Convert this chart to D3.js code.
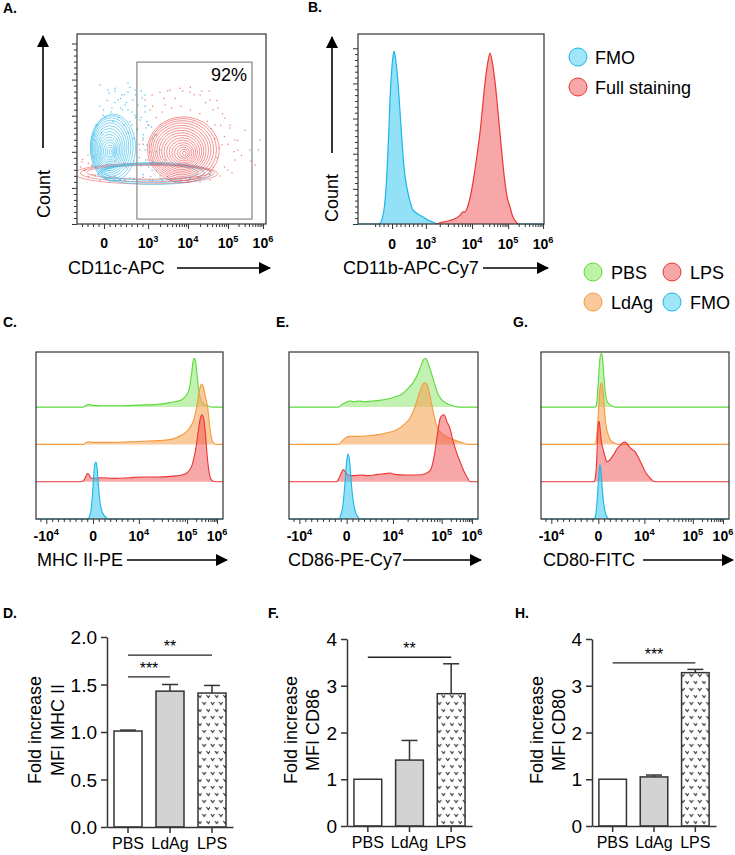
<!DOCTYPE html>
<html><head><meta charset="utf-8">
<script src="https://cdn.jsdelivr.net/npm/d3@7"></script>
<style>body{margin:0;background:#fff}svg{display:block}text{font-family:"Liberation Sans",Arial,sans-serif}</style>
</head><body><script>
// ---------------- DATA ----------------
const groups = ["PBS","LdAg","LPS"];
const mhcMean = [1.01,1.43,1.41], mhcErr = [1.02,1.50,1.49];
const cd86Mean = [1.0,1.41,2.83], cd86Err = [1.0,1.83,3.47];
const cd80Mean = [1.0,1.05,3.28], cd80Err = [1.0,1.09,3.35];
const mhcSig = [{a:"PBS",b:"LdAg",y:1.58,t:"***"},{a:"PBS",b:"LPS",y:1.81,t:"**"}];
const cd86Sig = [{a:"PBS",b:"LPS",y:3.61,t:"**"}];
const cd80Sig = [{a:"PBS",b:"LPS",y:3.49,t:"***"}];
const mhcTicks = [0,0.5,1.0,1.5,2.0], cdTicks = [0,1,2,3,4];

// flow axes (channel units 0..1000)
const aXTicks = [143,376,587,799,984];
const aXLabels = [["0",""],["10","3"],["10","4"],["10","5"],["10","6"]];
const bXTicks = [183,365,613,807,995];
const bXLabels = [["0",""],["10","3"],["10","4"],["10","5"],["10","6"]];
const histTicks = [55,305,550,808,968];
const histLabels = [["-10","4"],["0",""],["10","4"],["10","5"],["10","6"]];
const aYTicks = [0,190,380,570,760,950];
const bYTicks = [0,185,370,555,740,925];

// panel B histograms [channel, count]
const bBlue = [[115,0],[130,3],[142,10],[151,21],[160,40],[167,57],[172,72],[182,90],[188,97],[194,100],[200,97],[208,90],[215,82],[224,68],[237,47],[250,30],[263,21],[280,13],[296,8],[320,6],[350,4],[380,2],[403,1],[425,0]];
const bRed = [[420,0],[450,1],[495,2],[520,3],[548,5],[565,7],[575,7],[595,12],[618,24],[640,40],[656,53],[670,68],[683,82],[697,93],[710,99],[723,93],[737,82],[750,68],[763,53],[777,37],[790,24],[803,15],[817,10],[830,5],[844,2],[860,0]];

// panel C (MHC II)
const cGreen = [[250,0],[265,2],[280,4],[295,3],[350,2],[450,2],[550,3],[650,4],[720,7],[770,10],[800,16],[820,28],[832,50],[840,68],[846,73],[852,70],[860,52],[868,30],[878,14],[890,7],[905,3],[925,1],[945,0]];
const cOrange = [[250,0],[265,2],[280,4],[300,3],[400,3],[500,4],[600,5],[680,6],[740,9],[780,14],[820,24],[845,38],[862,60],[875,82],[885,90],[895,86],[905,72],[918,55],[928,30],[938,10],[950,2],[965,0]];
const cRed = [[240,0],[255,2],[265,7],[275,12],[283,11],[292,6],[305,5],[350,6],[420,5],[500,6],[580,7],[650,7],[720,8],[780,10],[810,14],[835,25],[855,50],[870,80],[880,96],[888,100],[896,95],[905,75],[915,40],[925,15],[935,4],[945,1],[960,0]];
const cBlue = [[275,0],[285,3],[295,15],[303,40],[310,70],[316,83],[321,85],[327,75],[334,50],[341,28],[350,14],[360,7],[372,3],[385,0]];

// panel E (CD86)
const eGreen = [[262,0],[280,4],[300,7],[323,9],[345,8],[370,9],[400,8],[440,9],[480,10],[520,12],[560,15],[600,20],[630,28],[660,38],[685,52],[700,63],[712,71],[720,73],[730,70],[745,58],[765,40],[785,22],[805,12],[830,6],[855,3],[880,1],[900,0]];
const eOrange = [[262,0],[280,5],[300,10],[323,12],[360,12],[420,13],[480,15],[530,18],[570,22],[610,30],[640,39],[665,55],[685,72],[700,85],[712,91],[720,92],[728,90],[740,80],[755,60],[770,40],[785,25],[799,19],[820,14],[850,9],[880,6],[910,3],[930,1],[945,0]];
const eRed = [[250,0],[262,4],[275,12],[288,18],[298,15],[310,10],[340,9],[380,10],[420,9],[470,11],[510,12],[535,13],[560,11],[620,10],[680,10],[720,12],[745,16],[760,27],[772,45],[785,70],[799,94],[810,99],[820,100],[835,90],[852,79],[868,61],[885,45],[905,30],[925,16],[942,7],[958,0]];
const eBlue = [[262,0],[272,4],[285,20],[295,50],[303,80],[310,95],[313,97],[320,88],[328,60],[336,35],[345,18],[355,8],[366,3],[378,0]];

// panel G (CD80)
const gGreen = [[288,0],[296,6],[303,30],[310,62],[317,78],[322,80],[328,72],[334,48],[341,24],[350,10],[360,5],[375,2],[395,0]];
const gOrange = [[285,0],[293,5],[300,25],[308,60],[315,85],[322,92],[330,80],[337,55],[343,35],[350,22],[356,16],[365,9],[375,5],[390,2],[410,0]];
const gRed = [[282,0],[290,8],[296,30],[300,60],[304,85],[309,90],[314,80],[320,62],[330,49],[340,38],[351,30],[365,32],[378,37],[392,43],[404,49],[420,54],[436,58],[446,59],[457,57],[470,52],[485,48],[500,45],[515,38],[527,31],[543,22],[556,14],[569,9],[585,4],[606,0]];
const gBlue = [[280,0],[290,5],[298,25],[305,55],[310,75],[314,81],[319,72],[326,45],[334,22],[343,9],[352,3],[362,0]];

// panel A contours [cx, cy, rx, ry] (channel units)
const blueRings = [[178,379,8,12],[176,379,16,24],[174,381,24,35],[172,383,32,47],[170,385,40,58],[170,387,48,70],[170,390,56,82],[171,393,64,94],[172,396,72,106],[174,399,80,118],[176,402,88,130],[178,404,96,142],[181,405,104,154],[185,404,112,166],[190,402,120,176]];
const blueTail = [[390,272,250,42],[400,268,275,50],[410,266,300,58]];
const redRings = [[568,372,10,10],[566,372,22,20],[564,373,34,31],[562,374,46,42],[560,375,58,53],[558,377,70,64],[556,379,82,75],[555,381,94,86],[554,383,106,97],[553,385,118,108],[553,387,130,119],[554,389,142,130],[555,391,154,141],[557,392,166,152],[560,392,178,163],[563,391,190,173]];
const redTail = [[380,272,330,36],[372,268,355,46],[365,265,380,54]];
const blueDots = [[120,620],[160,650],[200,700],[230,610],[260,640],[290,590],[310,680],[340,560],[220,560],[180,590],[280,540],[320,500],[350,470],[300,450],[330,420],[360,390],[270,480],[250,520],[240,600],[200,640],[150,560],[100,520],[90,470],[80,300],[110,260],[160,240],[230,235],[300,240],[350,260],[380,300],[400,330],[420,280],[390,250],[440,240],[480,250],[330,350],[300,330],[260,300],[360,620],[340,700],[280,720],[190,540],[130,480],[370,540],[250,680],[400,450],[420,380],[310,560],[270,600],[230,660],[170,690],[140,600],[365,505],[395,510],
 [122,731],[164,705],[201,715],[238,679],[270,694],[296,652],[323,626],[344,663],[254,626],[217,652],[185,610],[307,573],[333,547],[360,589],[376,521],[317,494],[349,452],[370,416],[386,379],[365,337],[339,305],[397,284],[439,252],[492,231],[545,226],[598,237],[640,247],[280,242],[227,226],[175,221],[122,231],[95,252],[79,310],[90,442],[106,521],[138,573],[270,742],[307,705],[360,679],[291,521],[413,468],[439,389],[466,337],[428,310]];
const redDots = [[20,300],[40,280],[60,320],[80,260],[100,300],[130,270],[60,250],[30,340],[90,350],[150,240],[200,250],[250,230],[300,235],[350,245],[400,230],[450,240],[500,230],[550,235],[600,240],[650,245],[700,260],[720,300],[740,350],[750,400],[730,450],[710,500],[690,540],[650,580],[600,600],[550,620],[500,610],[450,590],[420,560],[520,660],[560,700],[620,680],[680,640],[720,600],[760,520],[780,460],[800,420],[830,380],[870,360],[920,330],[960,390],[850,440],[780,300],[820,270],[460,660],[400,620],[480,700],[600,720],[660,700],[380,520],[350,420],[420,470],[250,320],[200,330],[160,310],[700,700],[740,650],[770,580],[810,520],
 [360,652],[397,679],[439,694],[492,705],[545,715],[598,694],[651,679],[704,652],[746,610],[783,557],[809,505],[836,442],[852,389],[836,337],[799,284],[757,252],[704,231],[651,221],[587,226],[518,221],[450,226],[386,231],[333,237],[254,231],[175,242],[95,258],[42,284],[26,326],[58,363],[79,310],[386,600],[466,626],[730,521],[767,416],[889,494],[915,389],[942,310],[968,442],[333,389],[349,442],[376,337]];
const gate = {x0:317,x1:926,y0:26,y1:852,label:"92%"};

const legendTop = ["FMO","Full staining"];
const legendBottom = [["PBS","LPS"],["LdAg","FMO"]];

// ---------------- STYLE ----------------
const COL = {
  green:{s:"#5cd93b",f:"rgba(120,225,85,0.45)",lf:"#bdf3a6"},
  orange:{s:"#f39b3e",f:"rgba(247,165,90,0.6)",lf:"#fbca9c"},
  red:{s:"#ec3535",f:"rgba(240,80,80,0.5)",lf:"#f8a7a7"},
  blue:{s:"#1ab6e8",f:"rgba(40,195,240,0.5)",lf:"#9fe6f8"}
};
const AX = "#333";
const W=735,H=855;
const svg = d3.select("body").append("svg").attr("width",W).attr("height",H);
const defs = svg.append("defs");
defs.append("marker").attr("id","ah").attr("viewBox","0 0 12 12").attr("refX",11).attr("refY",6)
  .attr("markerWidth",12).attr("markerHeight",12).attr("markerUnits","userSpaceOnUse").attr("orient","auto")
  .append("path").attr("d","M0,0 L12,6 L0,12 Z").attr("fill","#000");
const pat = defs.append("pattern").attr("id","vpat").attr("patternUnits","userSpaceOnUse").attr("width",8.4).attr("height",14);
pat.append("rect").attr("width",8.4).attr("height",14).attr("fill","#fff");
pat.append("path").attr("d","M0.8,2 L2.6,4.6 L4.4,2 M5,9 L6.8,11.6 L8.6,9").attr("stroke","#333").attr("fill","none").attr("stroke-width",1.1);

function label(t,x,y){svg.append("text").attr("x",x).attr("y",y).attr("font-size",14).attr("font-weight","bold").text(t);}
function arrow(x1,y1,x2,y2){svg.append("line").attr("x1",x1).attr("y1",y1).attr("x2",x2).attr("y2",y2).attr("stroke","#000").attr("stroke-width",1.6).attr("marker-end","url(#ah)");}
function supText(sel,lab){sel.text(null);sel.append("tspan").text(lab[0]);if(lab[1])sel.append("tspan").attr("dy",-6).attr("font-size","0.66em").text(lab[1]);}

function minorFrom(ticks, labels){
  const out=[];
  for(let i=0;i<ticks.length-1;i++){
    const a=ticks[i],b=ticks[i+1];
    const la=labels[i][1], lb=labels[i+1][1];
    if(la!=="" && lb!=="" && labels[i][0]==="10"){ for(let k=2;k<10;k++) out.push(a+(b-a)*Math.log10(k)); }
    else { const n=8; for(let k=1;k<n;k++) out.push(a+(b-a)*k/n); }
  }
  const d0=ticks[1]-ticks[0];
  for(let k=1;k<5;k++){const v=ticks[0]-d0*k/8; if(v>0) out.push(v);}
  return out;
}

function xAxis(x, y0, ticks, labels, labelY){
  const g=svg.append("g").attr("transform",`translate(0,${y0})`);
  g.call(d3.axisBottom(x).tickValues(minorFrom(ticks,labels)).tickSize(3).tickFormat("")).call(s=>s.select(".domain").remove());
  const g2=svg.append("g").attr("transform",`translate(0,${y0})`);
  g2.call(d3.axisBottom(x).tickValues(ticks).tickSize(5).tickFormat("")).call(s=>s.select(".domain").remove());
  svg.selectAll(null).data(ticks).enter().append("text").attr("x",d=>x(d)).attr("y",labelY)
    .attr("text-anchor","middle").attr("font-size",14).attr("font-weight","bold").each(function(d,i){supText(d3.select(this),labels[i]);});
  svg.selectAll(".tick line").attr("stroke",AX);
}
function yAxisMinor(y, x0, ticks){
  const minors=[];
  for(let i=0;i<ticks.length-1;i++) for(let k=1;k<6;k++) minors.push(ticks[i]+(ticks[i+1]-ticks[i])*k/6);
  svg.append("g").attr("transform",`translate(${x0},0)`).call(d3.axisLeft(y).tickValues(minors).tickSize(3).tickFormat("")).call(s=>s.select(".domain").remove());
  svg.append("g").attr("transform",`translate(${x0},0)`).call(d3.axisLeft(y).tickValues(ticks).tickSize(5).tickFormat("")).call(s=>s.select(".domain").remove());
}
function frame(p){svg.append("rect").attr("x",p.x).attr("y",p.y).attr("width",p.w).attr("height",p.h).attr("fill","none").attr("stroke",AX).attr("stroke-width",1.2);}
function countLabel(x,y,ax,ay1,ay2){
  svg.append("text").attr("transform",`translate(${x},${y}) rotate(-90)`).attr("text-anchor","middle").attr("font-size",18).text("Count");
  arrow(ax,ay1,ax,ay2);
}

// ---------------- PANEL A ----------------
label("A.",3,13);
const pA={x:77,y:34,w:189,h:190};
defs.append("clipPath").attr("id","clipA").append("rect").attr("x",pA.x).attr("y",pA.y).attr("width",pA.w).attr("height",pA.h);
const xA=d3.scaleLinear().domain([0,1000]).range([pA.x,pA.x+pA.w]);
const yA=d3.scaleLinear().domain([0,1000]).range([pA.y+pA.h,pA.y]);
const gA=svg.append("g").attr("clip-path","url(#clipA)");
gA.selectAll(".rd").data(redDots).enter().append("circle").attr("cx",d=>xA(d[0])).attr("cy",d=>yA(d[1])).attr("r",0.75).attr("fill","#f47c7c");
gA.selectAll(".bd").data(blueDots).enter().append("circle").attr("cx",d=>xA(d[0])).attr("cy",d=>yA(d[1])).attr("r",0.75).attr("fill","#45c6ef");
function rings(data,color){
  gA.selectAll(null).data(data).enter().append("ellipse").attr("cx",d=>xA(d[0])).attr("cy",d=>yA(d[1]))
    .attr("rx",d=>xA(d[2])-xA(0)).attr("ry",d=>yA(0)-yA(d[3])).attr("fill","none").attr("stroke",color).attr("stroke-width",0.6);
}
rings(redTail,"#ef6060");
rings(blueTail,"#38bde9");
rings(blueRings,"#2cb9e9");
rings(redRings,"#ee4c4c");
svg.append("rect").attr("x",xA(gate.x0)).attr("y",yA(gate.y1)).attr("width",xA(gate.x1)-xA(gate.x0)).attr("height",yA(gate.y0)-yA(gate.y1))
  .attr("fill","none").attr("stroke","#888").attr("stroke-width",1.2);
svg.append("text").attr("x",xA(gate.x1)-5).attr("y",yA(gate.y1)+19).attr("text-anchor","end").attr("font-size",18).text(gate.label);
frame(pA);
xAxis(xA,pA.y+pA.h,aXTicks,aXLabels,248);
yAxisMinor(yA,pA.x,aYTicks);
countLabel(50,194,43,148,36);
svg.append("text").attr("x",68).attr("y",274).attr("font-size",18).text("CD11c-APC");
arrow(177,268,270,268);

// ---------------- PANEL B ----------------
label("B.",308,12);
const pB={x:358,y:34,w:186,h:190};
const xB=d3.scaleLinear().domain([0,1000]).range([pB.x,pB.x+pB.w]);
const yB=d3.scaleLinear().domain([0,110]).range([pB.y+pB.h,pB.y]);
[[bBlue,COL.blue],[bRed,COL.red]].forEach(([d,c])=>{
  svg.append("path").attr("d",d3.area().x(p=>xB(p[0])).y0(yB(0)).y1(p=>yB(p[1])).curve(d3.curveMonotoneX)(d)).attr("fill",c.f);
  svg.append("path").attr("d",d3.line().x(p=>xB(p[0])).y(p=>yB(p[1])).curve(d3.curveMonotoneX)(d)).attr("fill","none").attr("stroke",c.s).attr("stroke-width",1.2);
});
svg.append("line").attr("x1",pB.x).attr("x2",xB(bBlue[0][0])).attr("y1",yB(0)).attr("y2",yB(0)).attr("stroke",COL.blue.s);
svg.append("line").attr("x1",xB(bRed[bRed.length-1][0])).attr("x2",pB.x+pB.w).attr("y1",yB(0)).attr("y2",yB(0)).attr("stroke",COL.blue.s);
frame(pB);
const yBt=d3.scaleLinear().domain([0,1000]).range([pB.y+pB.h,pB.y]);
xAxis(xB,pB.y+pB.h,bXTicks,bXLabels,249);
yAxisMinor(yBt,pB.x,bYTicks);
countLabel(338,198,332,153,37);
svg.append("text").attr("x",343).attr("y",274).attr("font-size",18).text("CD11b-APC-Cy7");
arrow(483,268,548,268);

// legend top
const ltCols=[COL.blue,COL.red];
legendTop.forEach((t,i)=>{
  const yy=57+i*30;
  svg.append("circle").attr("cx",578).attr("cy",yy).attr("r",9).attr("fill",ltCols[i].lf).attr("stroke",ltCols[i].s).attr("stroke-width",1);
  svg.append("text").attr("x",595).attr("y",yy+6.5).attr("font-size",18).text(t);
});
// legend bottom
const lbCols={PBS:COL.green,LPS:COL.red,LdAg:COL.orange,FMO:COL.blue};
legendBottom.forEach((row,r)=>row.forEach((t,c)=>{
  const cx=593+c*79, cy=272+r*30;
  svg.append("circle").attr("cx",cx).attr("cy",cy).attr("r",9).attr("fill",lbCols[t].lf).attr("stroke",lbCols[t].s).attr("stroke-width",1);
  svg.append("text").attr("x",cx+18).attr("y",cy+6.5).attr("font-size",18).text(t);
}));

// ---------------- HISTOGRAM PANELS ----------------
function histPanel(p, curves, title, titleX, arrowX1, arrowX2){
  const x=d3.scaleLinear().domain([0,1000]).range([p.x,p.x+p.w]);
  const yh=d3.scaleLinear().domain([0,100]).range([0,67]);
  const step=37.3;
  const cols=[COL.green,COL.orange,COL.red,COL.blue];
  curves.forEach((c,i)=>{
    const base=p.y+p.h-(3-i)*step;
    const pts=[[0,0],...c,[1000,0]];
    svg.append("path").attr("d",d3.area().x(d=>x(d[0])).y0(base).y1(d=>base-yh(d[1])).curve(d3.curveMonotoneX)(pts)).attr("fill",cols[i].f);
    svg.append("path").attr("d",d3.line().x(d=>x(d[0])).y(d=>base-yh(d[1])).curve(d3.curveMonotoneX)(pts)).attr("fill","none").attr("stroke",cols[i].s).attr("stroke-width",1.1);
  });
  frame(p);
  xAxis(x,p.y+p.h,histTicks,histLabels,541);
  svg.append("text").attr("x",titleX).attr("y",566).attr("font-size",18).text(title);
  arrow(arrowX1,560,arrowX2,560);
}
label("C.",3,327); label("E.",276,327); label("G.",513,327);
histPanel({x:36,y:352,w:187,h:167},[cGreen,cOrange,cRed,cBlue],"MHC II-PE",37,127,227);
histPanel({x:289,y:352,w:189,h:167},[eGreen,eOrange,eRed,eBlue],"CD86-PE-Cy7",288,403,481);
histPanel({x:541,y:352,w:188,h:167},[gGreen,gOrange,gRed,gBlue],"CD80-FITC",543,643,733);

// ---------------- BAR CHARTS ----------------
function barChart(c){
  const x=d3.scaleBand().domain(groups).range([c.ax,c.xEnd]).paddingInner(1/3).paddingOuter(1/6);
  const y=d3.scaleLinear().domain([0,c.max]).range([c.yBot,c.yTop]);
  const fills=["#fff","#d3d3d3","url(#vpat)"];
  groups.forEach((gname,i)=>{
    const cx=x(gname)+x.bandwidth()/2;
    if(c.err[i]>c.mean[i]){
      svg.append("line").attr("x1",cx).attr("x2",cx).attr("y1",y(c.mean[i])).attr("y2",y(c.err[i])).attr("stroke",AX).attr("stroke-width",1.5);
      svg.append("line").attr("x1",cx-8).attr("x2",cx+8).attr("y1",y(c.err[i])).attr("y2",y(c.err[i])).attr("stroke",AX).attr("stroke-width",1.5);
    }
    svg.append("rect").attr("x",x(gname)).attr("y",y(c.mean[i])).attr("width",x.bandwidth()).attr("height",y(0)-y(c.mean[i]))
      .attr("fill",fills[i]).attr("stroke",AX).attr("stroke-width",1.5);
  });
  const ya=svg.append("g").attr("transform",`translate(${c.ax},0)`).call(d3.axisLeft(y).tickValues(c.ticks).tickSize(6).tickSizeOuter(0).tickPadding(4).tickFormat(c.fmt));
  ya.selectAll("text").attr("font-size",19).attr("fill","#000").attr("dy","0.35em");
  const xa=svg.append("g").attr("transform",`translate(0,${c.yBot})`).call(d3.axisBottom(x).tickSize(6).tickSizeOuter(0).tickPadding(5));
  xa.selectAll("text").attr("font-size",16).attr("fill","#000");
  [ya,xa].forEach(a=>{a.selectAll("line,path").attr("stroke",AX).attr("stroke-width",1.5);a.attr("font-family",null);});
  c.sig.forEach(s=>{
    const x1=x(s.a)+x.bandwidth()/2, x2=x(s.b)+x.bandwidth()/2, yy=y(s.y);
    svg.append("line").attr("x1",x1).attr("x2",x2).attr("y1",yy).attr("y2",yy).attr("stroke","#222").attr("stroke-width",1.3);
    svg.append("text").attr("x",(x1+x2)/2).attr("y",yy-3).attr("text-anchor","middle").attr("font-size",16).text(s.t);
  });
  const t=svg.append("text").attr("transform",`translate(${c.tx},730) rotate(-90)`).attr("text-anchor","middle").attr("font-size",18);
  t.append("tspan").attr("x",0).attr("y",0).text("Fold increase");
  t.append("tspan").attr("x",0).attr("y",c.tgap).text(c.title2);
}
label("D.",3,618); label("F.",268,618); label("H.",515,618);
barChart({ax:107,xEnd:233,yTop:637,yBot:827,max:2,ticks:mhcTicks,fmt:d3.format(".1f"),mean:mhcMean,err:mhcErr,sig:mhcSig,tx:41,tgap:23,title2:"MFI MHC II"});
barChart({ax:347,xEnd:472,yTop:639,yBot:826,max:4,ticks:cdTicks,fmt:d3.format("d"),mean:cd86Mean,err:cd86Err,sig:cd86Sig,tx:297,tgap:22,title2:"MFI CD86"});
barChart({ax:592,xEnd:716,yTop:639,yBot:826,max:4,ticks:cdTicks,fmt:d3.format("d"),mean:cd80Mean,err:cd80Err,sig:cd80Sig,tx:543,tgap:22,title2:"MFI CD80"});
</script></body></html>
